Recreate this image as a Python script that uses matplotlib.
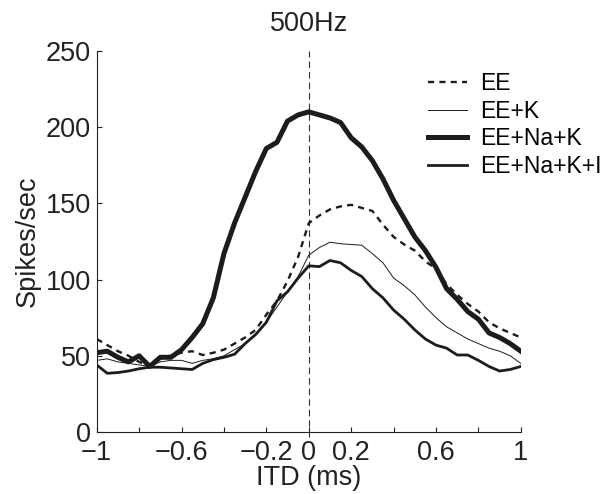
import matplotlib
matplotlib.use("Agg")
import matplotlib.pyplot as plt

plt.rcParams['font.family'] = ['Liberation Sans', 'DejaVu Sans']

# ITD values (ms) and spike rates
itd = [-1.0, -0.95, -0.9, -0.85, -0.8, -0.75, -0.7, -0.65, -0.6, -0.55, -0.5,
       -0.45, -0.4, -0.35, -0.3, -0.25, -0.2, -0.15, -0.1, -0.05, 0.0,
       0.05, 0.1, 0.15, 0.2, 0.25, 0.3, 0.35, 0.4, 0.45, 0.5,
       0.55, 0.6, 0.65, 0.7, 0.75, 0.8, 0.85, 0.9, 0.95, 1.0]

ee = [61, 57, 53, 50, 46, 43, 49, 50, 52, 53, 50.5,
      52, 54, 58, 62, 67, 77, 86, 99, 115, 137,
      142, 146, 148, 149, 147, 145, 136, 128, 123, 119,
      112, 107, 97, 90, 84, 79, 72, 68, 65, 62]

ee_k = [47, 48, 46, 45, 44, 43, 46, 47, 47, 45, 47,
        48, 50, 54, 58, 64, 72, 82, 92, 102, 116,
        121, 124.5, 123.5, 123, 122.5, 117, 111, 101, 96, 90,
        82, 75, 69, 65, 61, 58, 55, 53, 50, 45]

ee_na_k = [52, 53, 49, 46, 50, 43, 49, 49, 54, 62, 71,
           88, 117, 137, 154, 171, 186, 190, 204, 208, 210,
           208, 206, 203, 193, 187, 178, 166, 152, 140, 128,
           119, 108, 94, 87, 79, 74, 65, 62, 58, 53]

ee_na_k_i = [44, 38.5, 39, 40, 41.5, 42.5, 42.5, 42, 41.5, 41, 45,
             47.5, 49, 51, 58, 64, 72, 86, 92, 101, 109,
             108.5, 112.5, 111, 106, 102, 94, 88, 80, 74, 67,
             61, 57, 55, 50.5, 50.5, 47, 43, 40, 41, 43]

x_ticks = [-1, -0.8, -0.6, -0.4, -0.2, 0, 0.2, 0.4, 0.6, 0.8, 1]
x_labels = ['\u22121', '', '\u22120.6', '', '\u22120.2', '0', '0.2', '', '0.6', '', '1']
y_ticks = [0, 50, 100, 150, 200, 250]

ink = '#1c1c1c'
fs = 19.5

fig = plt.figure(figsize=(6.12, 4.94), dpi=100)
ax = fig.add_axes([0.158, 0.1255, 0.693, 0.7715])

ax.axvline(0, ymin=-0.012, ymax=1, color='#333333', lw=0.8,
           dashes=(6, 3.5), clip_on=False)

ax.plot(itd, ee, color=ink, lw=1.7, dashes=(2.6, 2.2), label='EE')
ax.plot(itd, ee_k, color=ink, lw=0.7, label='EE+K')
ax.plot(itd, ee_na_k, color=ink, lw=3.6, solid_joinstyle='round', label='EE+Na+K')
ax.plot(itd, ee_na_k_i, color=ink, lw=2.0, solid_joinstyle='round', label='EE+Na+K+I')

ax.set_xlim(-1, 1)
ax.set_ylim(0, 250)
ax.set_xticks(x_ticks)
ax.set_xticklabels(x_labels)
ax.set_yticks(y_ticks)
ax.tick_params(direction='in', length=3.5, width=0.8, labelsize=fs,
               colors='#222222')
ax.tick_params(axis='y', pad=4)
ax.tick_params(axis='x', pad=6)

for side in ['top', 'right']:
    ax.spines[side].set_visible(False)
for side in ['left', 'bottom']:
    ax.spines[side].set_linewidth(0.8)
    ax.spines[side].set_color('#222222')

ax.set_title('500Hz', fontsize=fs, pad=14, color='#222222')
ax.set_xlabel('ITD (ms)', fontsize=fs, labelpad=-1, color='#222222')
ax.set_ylabel('Spikes/sec', fontsize=fs, labelpad=4, color='#222222')

ax.legend(loc='upper left', bbox_to_anchor=(428 / 612, 1 - 72 / 494),
          bbox_transform=fig.transFigure, frameon=False, fontsize=16.5,
          handlelength=1.7, handletextpad=0.57, labelspacing=0.2,
          borderpad=0, borderaxespad=0)

fig.savefig('out.png', dpi=100)
